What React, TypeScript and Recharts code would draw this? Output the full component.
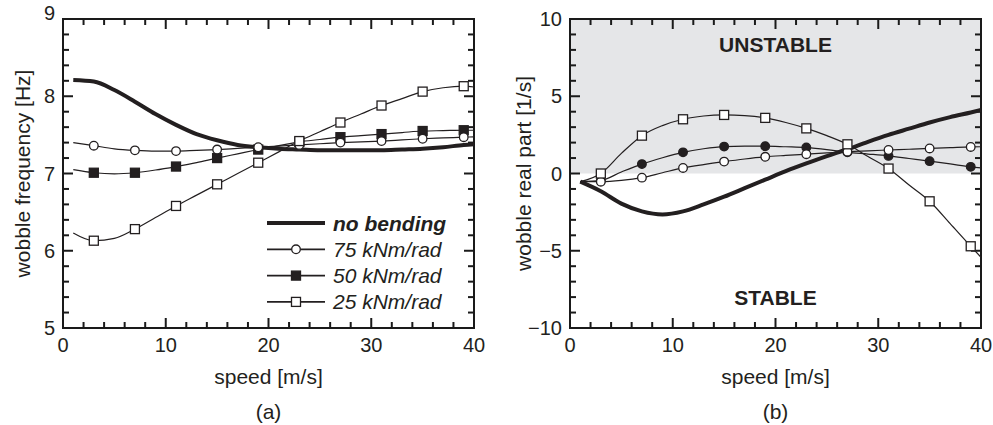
import React from 'react';
import { LineChart, Line, XAxis, YAxis, ReferenceArea, ReferenceLine, Legend } from 'recharts';

// ---------- data ----------
const speeds = [1, 3, 5, 7, 9, 11, 13, 15, 17, 19, 21, 23, 25, 27, 29, 31, 33, 35, 37, 39, 40];
const markerSpeeds = [3, 7, 11, 15, 19, 23, 27, 31, 35, 39];

// (a) wobble frequency [Hz]
const freqNoBending = [8.21, 8.19, 8.08, 7.93, 7.77, 7.63, 7.51, 7.43, 7.37, 7.34, 7.32, 7.31, 7.30, 7.30, 7.30, 7.30, 7.31, 7.32, 7.34, 7.37, 7.38];
const freq75 = [7.40, 7.36, 7.32, 7.30, 7.29, 7.29, 7.30, 7.31, 7.325, 7.34, 7.355, 7.37, 7.385, 7.40, 7.41, 7.42, 7.435, 7.45, 7.46, 7.47, 7.475];
const freq50 = [7.05, 7.01, 6.995, 7.01, 7.045, 7.09, 7.14, 7.20, 7.255, 7.31, 7.36, 7.41, 7.44, 7.47, 7.49, 7.51, 7.53, 7.55, 7.555, 7.56, 7.56];
const freq25 = [6.23, 6.13, 6.16, 6.28, 6.43, 6.58, 6.72, 6.86, 7.0, 7.14, 7.28, 7.42, 7.54, 7.66, 7.77, 7.88, 7.97, 8.06, 8.11, 8.13, 8.12];

// (b) wobble real part [1/s]
const realNoBending = [-0.53, -1.15, -1.95, -2.45, -2.65, -2.45, -2.0, -1.5, -0.95, -0.4, 0.15, 0.65, 1.12, 1.57, 2.05, 2.5, 2.9, 3.3, 3.65, 3.95, 4.11];
const real75 = [-0.53, -0.53, -0.45, -0.27, 0.05, 0.36, 0.58, 0.77, 0.94, 1.08, 1.17, 1.25, 1.33, 1.41, 1.47, 1.52, 1.57, 1.62, 1.67, 1.72, 1.73];
const real50 = [-0.53, -0.45, 0.1, 0.61, 1.02, 1.37, 1.6, 1.74, 1.77, 1.77, 1.73, 1.68, 1.55, 1.37, 1.26, 1.14, 0.97, 0.8, 0.62, 0.43, 0.36];
const real25 = [-0.53, 0.0, 1.3, 2.45, 3.1, 3.51, 3.72, 3.79, 3.75, 3.6, 3.3, 2.92, 2.45, 1.89, 1.1, 0.32, -0.75, -1.8, -3.25, -4.71, -5.42];

const xTicks = [0, 2, 4, 6, 8, 10, 12, 14, 16, 18, 20, 22, 24, 26, 28, 30, 32, 34, 36, 38, 40];
const freqTicks = [5, 5.2, 5.4, 5.6, 5.8, 6, 6.2, 6.4, 6.6, 6.8, 7, 7.2, 7.4, 7.6, 7.8, 8, 8.2, 8.4, 8.6, 8.8, 9];
const realTicks = [-10, -9, -8, -7, -6, -5, -4, -3, -2, -1, 0, 1, 2, 3, 4, 5, 6, 7, 8, 9, 10];

const seriesNames = ['no bending', '75 kNm/rad', '50 kNm/rad', '25 kNm/rad'];

// ---------- style / layout ----------
const INK = '#231f20';
const TICK_INK = '#1a1a1a';
const FONT = '"Liberation Sans", Arial, Helvetica, sans-serif';
const GRAY = '#e5e6e8';
const W_LEFT = 490;
const W_RIGHT = 503;
const H = 425;
const TOP = 19;
const BOTTOM = 328;
const PLOT_H = BOTTOM - TOP;
const L_LEFT = 63;
const L_RIGHT = 474;
const R_LEFT = 80; // within right chart
const R_RIGHT = 491;
const PLOT_W = L_RIGHT - L_LEFT;
const MAJOR_LEN = 10;
const MINOR_LEN = 6;
const TICK_W = 2;
const FRAME_W = 2;

const toPoints = (vals: number[]) => speeds.map((s, i) => ({ speed: s, value: vals[i] }));

type Kind = 'openCircle' | 'filledCircle' | 'openSquare' | 'filledSquare' | null;

const Marker = ({ cx, cy, kind }: { cx: number; cy: number; kind: Kind }) => {
  if (kind === 'openCircle' || kind === 'filledCircle') {
    return <circle cx={cx} cy={cy} r={4.3} fill={kind === 'openCircle' ? '#fff' : INK} stroke={INK} strokeWidth={1.3} />;
  }
  if (kind === 'openSquare' || kind === 'filledSquare') {
    return <rect x={cx - 4.5} y={cy - 4.5} width={9} height={9} fill={kind === 'openSquare' ? '#fff' : INK} stroke={INK} strokeWidth={1.3} />;
  }
  return null;
};

const makeDot = (kind: Kind) => (p: any) => {
  const key = `dot-${kind}-${p.index}`;
  if (!p.payload || !markerSpeeds.includes(p.payload.speed)) return <g key={key} />;
  return (
    <g key={key}>
      <Marker cx={p.cx} cy={p.cy} kind={kind} />
    </g>
  );
};

const fmt = (v: number) => (v < 0 ? `\u2212${Math.abs(v)}` : `${v}`);

const makeXLabel = (isMajor: (v: number) => boolean) => (props: any) => {
  const { payload } = props;
  const x = payload && typeof payload.coordinate === 'number' ? payload.coordinate : props.x;
  const v = payload.value;
  if (!isMajor(v)) return <g />;
  return (
    <text x={x} y={BOTTOM + 24} textAnchor="middle" fontSize={20} fill={INK} fontFamily={FONT}>
      {fmt(v)}
    </text>
  );
};

const makeYLabel = (left: number, isMajor: (v: number) => boolean, raiseTop?: number) => (props: any) => {
  const { payload } = props;
  const y = payload && typeof payload.coordinate === 'number' ? payload.coordinate : props.y;
  const v = payload.value;
  if (!isMajor(v)) return <g />;
  const shift = raiseTop !== undefined && v === raiseTop ? -6 : 0;
  return (
    <text x={left - 8} y={y + shift} dy="0.36em" textAnchor="end" fontSize={20} fill={INK} fontFamily={FONT}>
      {fmt(v)}
    </text>
  );
};

// inward tick marks on all four sides, placed through the chart's own scales
const frameTicks = (
  prefix: string,
  xt: number[],
  yt: number[],
  xDom: [number, number],
  yDom: [number, number],
  isMajorX: (v: number) => boolean,
  isMajorY: (v: number) => boolean
) => {
  const xPerPx = (xDom[1] - xDom[0]) / PLOT_W;
  const yPerPx = (yDom[1] - yDom[0]) / PLOT_H;
  const out: React.ReactNode[] = [];
  xt.forEach((v) => {
    const len = (isMajorX(v) ? MAJOR_LEN : MINOR_LEN) * yPerPx;
    out.push(
      <ReferenceLine key={`${prefix}xb${v}`} segment={[{ x: v, y: yDom[0] }, { x: v, y: yDom[0] + len }]} stroke={TICK_INK} strokeWidth={TICK_W} ifOverflow="visible" />,
      <ReferenceLine key={`${prefix}xt${v}`} segment={[{ x: v, y: yDom[1] }, { x: v, y: yDom[1] - len }]} stroke={TICK_INK} strokeWidth={TICK_W} ifOverflow="visible" />
    );
  });
  yt.forEach((v) => {
    const len = (isMajorY(v) ? MAJOR_LEN : MINOR_LEN) * xPerPx;
    out.push(
      <ReferenceLine key={`${prefix}yl${v}`} segment={[{ x: xDom[0], y: v }, { x: xDom[0] + len, y: v }]} stroke={TICK_INK} strokeWidth={TICK_W} ifOverflow="visible" />,
      <ReferenceLine key={`${prefix}yr${v}`} segment={[{ x: xDom[1], y: v }, { x: xDom[1] - len, y: v }]} stroke={TICK_INK} strokeWidth={TICK_W} ifOverflow="visible" />
    );
  });
  return out;
};

const legendItems: { name: string; kind: Kind; width: number; bold?: boolean }[] = [
  { name: seriesNames[0], kind: null, width: 4.2, bold: true },
  { name: seriesNames[1], kind: 'openCircle', width: 1.8 },
  { name: seriesNames[2], kind: 'filledSquare', width: 1.8 },
  { name: seriesNames[3], kind: 'openSquare', width: 1.8 },
];

const LegendContent = () => (
  <svg width={230} height={110} style={{ display: 'block', overflow: 'visible' }}>
    {legendItems.map((it, i) => {
      const y = 18 + i * 26.3;
      return (
        <g key={it.name}>
          <line x1={7} x2={65} y1={y} y2={y} stroke={INK} strokeWidth={it.width} />
          <Marker cx={36} cy={y} kind={it.kind} />
          <text x={73} y={y} dy="0.36em" fontSize={21} fontStyle="italic" fontWeight={it.bold ? 'bold' : 'normal'} fill={INK} fontFamily={FONT}>
            {it.name}
          </text>
        </g>
      );
    })}
  </svg>
);

const thin = 1.2;
const thick = 4;
const isMajorX = (v: number) => v % 10 === 0;
const isMajorFreq = (v: number) => Math.abs(v - Math.round(v)) < 1e-6;
const isMajorReal = (v: number) => v % 5 === 0;

const regionLabel = (text: string, baseline: number) => (props: any) => {
  const vb = props.viewBox || {};
  const cx = (vb.x ?? 0) + (vb.width ?? 0) / 2;
  return (
    <text x={cx} y={baseline} textAnchor="middle" fontSize={21} fontWeight="bold" fill={INK} fontFamily={FONT}>
      {text}
    </text>
  );
};

export default function App() {
  return (
    <div style={{ position: 'absolute', left: 0, top: 0, width: 993, height: H, background: '#fff' }}>
      {/* (a) */}
      <div style={{ position: 'absolute', left: 0, top: 0 }}>
        <LineChart width={W_LEFT} height={H} margin={{ top: TOP, right: W_LEFT - L_RIGHT, left: 0, bottom: 67 }}>
          <XAxis dataKey="speed" type="number" domain={[0, 40]} ticks={xTicks} interval={0} allowDataOverflow axisLine={false} tickLine={false} height={30} tick={makeXLabel(isMajorX)} />
          <YAxis type="number" domain={[5, 9]} ticks={freqTicks} interval={0} allowDataOverflow axisLine={false} tickLine={false} width={L_LEFT} tick={makeYLabel(L_LEFT, isMajorFreq, 9)} />
          <ReferenceArea x1={0} x2={40} y1={5} y2={9} fill="none" stroke={TICK_INK} strokeWidth={FRAME_W} />
          {frameTicks('a', xTicks, freqTicks, [0, 40], [5, 9], isMajorX, isMajorFreq)}
          <Line data={toPoints(freqNoBending)} dataKey="value" name={seriesNames[0]} type="monotone" stroke={INK} strokeWidth={thick} dot={false} isAnimationActive={false} />
          <Line data={toPoints(freq50)} dataKey="value" name={seriesNames[2]} type="monotone" stroke={INK} strokeWidth={thin} dot={makeDot('filledSquare')} isAnimationActive={false} />
          <Line data={toPoints(freq75)} dataKey="value" name={seriesNames[1]} type="monotone" stroke={INK} strokeWidth={thin} dot={makeDot('openCircle')} isAnimationActive={false} />
          <Line data={toPoints(freq25)} dataKey="value" name={seriesNames[3]} type="monotone" stroke={INK} strokeWidth={thin} dot={makeDot('openSquare')} isAnimationActive={false} />
          <Legend layout="vertical" align="center" verticalAlign="middle" content={() => <LegendContent />} wrapperStyle={{ position: 'absolute', left: 260, top: 205, width: 230, height: 110 }} />
          <text x={22} y={(TOP + BOTTOM) / 2} transform={`rotate(-90 22 ${(TOP + BOTTOM) / 2})`} dy="0.36em" textAnchor="middle" fontSize={21} fill={INK} fontFamily={FONT}>
            wobble frequency [Hz]
          </text>
          <text x={(L_LEFT + L_RIGHT) / 2} y={384} textAnchor="middle" fontSize={21} fill={INK} fontFamily={FONT}>
            speed [m/s]
          </text>
          <text x={(L_LEFT + L_RIGHT) / 2} y={419} textAnchor="middle" fontSize={21} fill={INK} fontFamily={FONT}>
            (a)
          </text>
        </LineChart>
      </div>

      {/* (b) */}
      <div style={{ position: 'absolute', left: W_LEFT, top: 0 }}>
        <LineChart width={W_RIGHT} height={H} margin={{ top: TOP, right: W_RIGHT - R_RIGHT, left: 0, bottom: 67 }}>
          <XAxis dataKey="speed" type="number" domain={[0, 40]} ticks={xTicks} interval={0} allowDataOverflow axisLine={false} tickLine={false} height={30} tick={makeXLabel(isMajorX)} />
          <YAxis type="number" domain={[-10, 10]} ticks={realTicks} interval={0} allowDataOverflow axisLine={false} tickLine={false} width={R_LEFT} tick={makeYLabel(R_LEFT, isMajorReal)} />
          <ReferenceArea x1={0} x2={40} y1={0} y2={10} fill={GRAY} fillOpacity={1} stroke="none" label={regionLabel('UNSTABLE', 52)} />
          <ReferenceArea x1={0} x2={40} y1={-10} y2={0} fill="none" stroke="none" label={regionLabel('STABLE', 305)} />
          <ReferenceArea x1={0} x2={40} y1={-10} y2={10} fill="none" stroke={TICK_INK} strokeWidth={FRAME_W} />
          {frameTicks('b', xTicks, realTicks, [0, 40], [-10, 10], isMajorX, isMajorReal)}
          <Line data={toPoints(realNoBending)} dataKey="value" name={seriesNames[0]} type="monotone" stroke={INK} strokeWidth={thick} dot={false} isAnimationActive={false} />
          <Line data={toPoints(real50)} dataKey="value" name={seriesNames[2]} type="monotone" stroke={INK} strokeWidth={thin} dot={makeDot('filledCircle')} isAnimationActive={false} />
          <Line data={toPoints(real75)} dataKey="value" name={seriesNames[1]} type="monotone" stroke={INK} strokeWidth={thin} dot={makeDot('openCircle')} isAnimationActive={false} />
          <Line data={toPoints(real25)} dataKey="value" name={seriesNames[3]} type="monotone" stroke={INK} strokeWidth={thin} dot={makeDot('openSquare')} isAnimationActive={false} />
          <text x={R_LEFT - 46.5} y={(TOP + BOTTOM) / 2} transform={`rotate(-90 ${R_LEFT - 46.5} ${(TOP + BOTTOM) / 2})`} dy="0.36em" textAnchor="middle" fontSize={21} fill={INK} fontFamily={FONT}>
            wobble real part [1/s]
          </text>
          <text x={(R_LEFT + R_RIGHT) / 2} y={384} textAnchor="middle" fontSize={21} fill={INK} fontFamily={FONT}>
            speed [m/s]
          </text>
          <text x={(R_LEFT + R_RIGHT) / 2} y={419} textAnchor="middle" fontSize={21} fill={INK} fontFamily={FONT}>
            (b)
          </text>
        </LineChart>
      </div>
    </div>
  );
}
